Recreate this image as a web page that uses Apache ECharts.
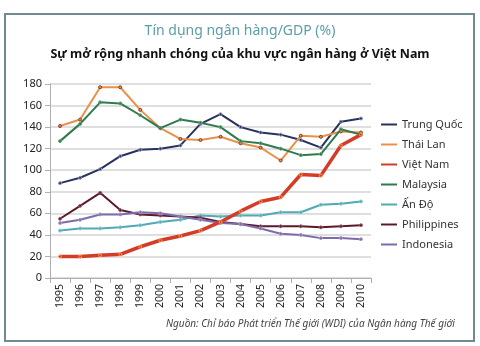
<!DOCTYPE html>
<html><head><meta charset="utf-8">
<script src="https://cdn.jsdelivr.net/npm/echarts@6/dist/echarts.min.js"></script>
<style>html,body{margin:0;padding:0;background:#fff}#c{width:480px;height:346px}</style>
</head><body><div id="c"></div>
<script>
const years = ['1995','1996','1997','1998','1999','2000','2001','2002','2003','2004','2005','2006','2007','2008','2009','2010'];
const yTicks = [0,20,40,60,80,100,120,140,160,180];
const trungQuoc  = [88,93,101,113,119,120,123,143,152,140,135,133,128,121,145,148];
const thaiLan    = [141,147,177,177,156,139,129,128,131,125,121,109,132,131,136,135];
const vietNam    = [20,20,21,22,29,35,39,44,52,62,71,75,96,95,123,133];
const malaysia   = [127,143,163,162,151,139,147,144,140,127,125,120,114,115,138,133];
const anDo       = [44,46,46,47,49,52,54,58,57,58,58,61,61,68,69,71];
const philippines= [55,67,79,63,59,58,57,56,52,50,48,48,48,47,48,49];
const indonesia  = [51,54,59,59,61,60,57,54,51,50,46,41,40,37,37,36];

const names = ['Trung Quốc','Thái Lan','Việt Nam','Malaysia','Ấn Độ','Philippines','Indonesia'];
const data = [trungQuoc, thaiLan, vietNam, malaysia, anDo, philippines, indonesia];
const colors = ['#27335e','#e8914a','#d43c28','#2f7a4c','#4faab3','#5a1a2c','#7d6cac'];
const markerColors = ['#8f97b8','#8a3a2a','#f0a050','#6aa07a','#8ac8cc','#a06070','#a89cc8'];
const widths = [2,2,3.5,2,2,2,2];

const chart = echarts.init(document.getElementById('c'));
chart.setOption({
  animation:false,
  title:[
    {text:'Tín dụng ngân hàng/GDP (%)',left:'center',top:19,textStyle:{fontFamily:'Noto Sans',fontSize:14,fontWeight:'normal',color:'#5b9ea8'}},
    {text:'Sự mở rộng nhanh chóng của khu vực ngân hàng ở Việt Nam',left:'center',top:43,textStyle:{fontFamily:'Noto Sans',fontSize:12.5,fontWeight:'bold',color:'#111'}}
  ],
  graphic:[
    {type:'rect',shape:{x:5,y:14,width:469,height:327},style:{fill:'none',stroke:'#6f8a90',lineWidth:2}},
    {type:'text',left:166,top:319,style:{text:'Nguồn: Chỉ báo Phát triển Thế giới (WDI) của Ngân hàng Thế giới',font:'italic 10px "Noto Sans"',fill:'#444'}}
  ],
  legend:{
    orient:'vertical',left:376,top:114,itemGap:9,itemWidth:16,itemHeight:8,
    textStyle:{fontFamily:'Noto Sans',fontSize:11,color:'#333'},
    data:names.map((n,i)=>({name:n,icon:'path://M0,3 L16,3 L16,5 L0,5 Z',
      itemStyle:{color:colors[i],borderWidth:0}}))
  },
  grid:{left:50,right:109,top:84,bottom:68},
  xAxis:{
    type:'category',data:years,boundaryGap:true,
    axisLine:{lineStyle:{color:'#b0b0b0',width:1}},
    axisTick:{show:true,alignWithLabel:false,lineStyle:{color:'#b0b0b0'}},
    axisLabel:{rotate:90,fontFamily:'Noto Sans',fontSize:10.5,color:'#222',margin:6,interval:0}
  },
  yAxis:{
    type:'value',min:0,max:180,interval:20,
    axisLine:{show:true,lineStyle:{color:'#b0b0b0'}},
    axisTick:{show:true,lineStyle:{color:'#b0b0b0'}},
    splitLine:{lineStyle:{color:'#d4d4d4',width:1.5}},
    axisLabel:{fontFamily:'Noto Sans',fontSize:11,color:'#222',margin:8}
  },
  series:names.map((n,i)=>({
    name:n,type:'line',data:data[i],
    symbol:'circle',symbolSize:3,
    itemStyle:{color:colors[i],borderColor:markerColors[i],borderWidth:1},
    lineStyle:{color:colors[i],width:widths[i]},
    z: i===2?5:3
  }))
});
</script></body></html>
